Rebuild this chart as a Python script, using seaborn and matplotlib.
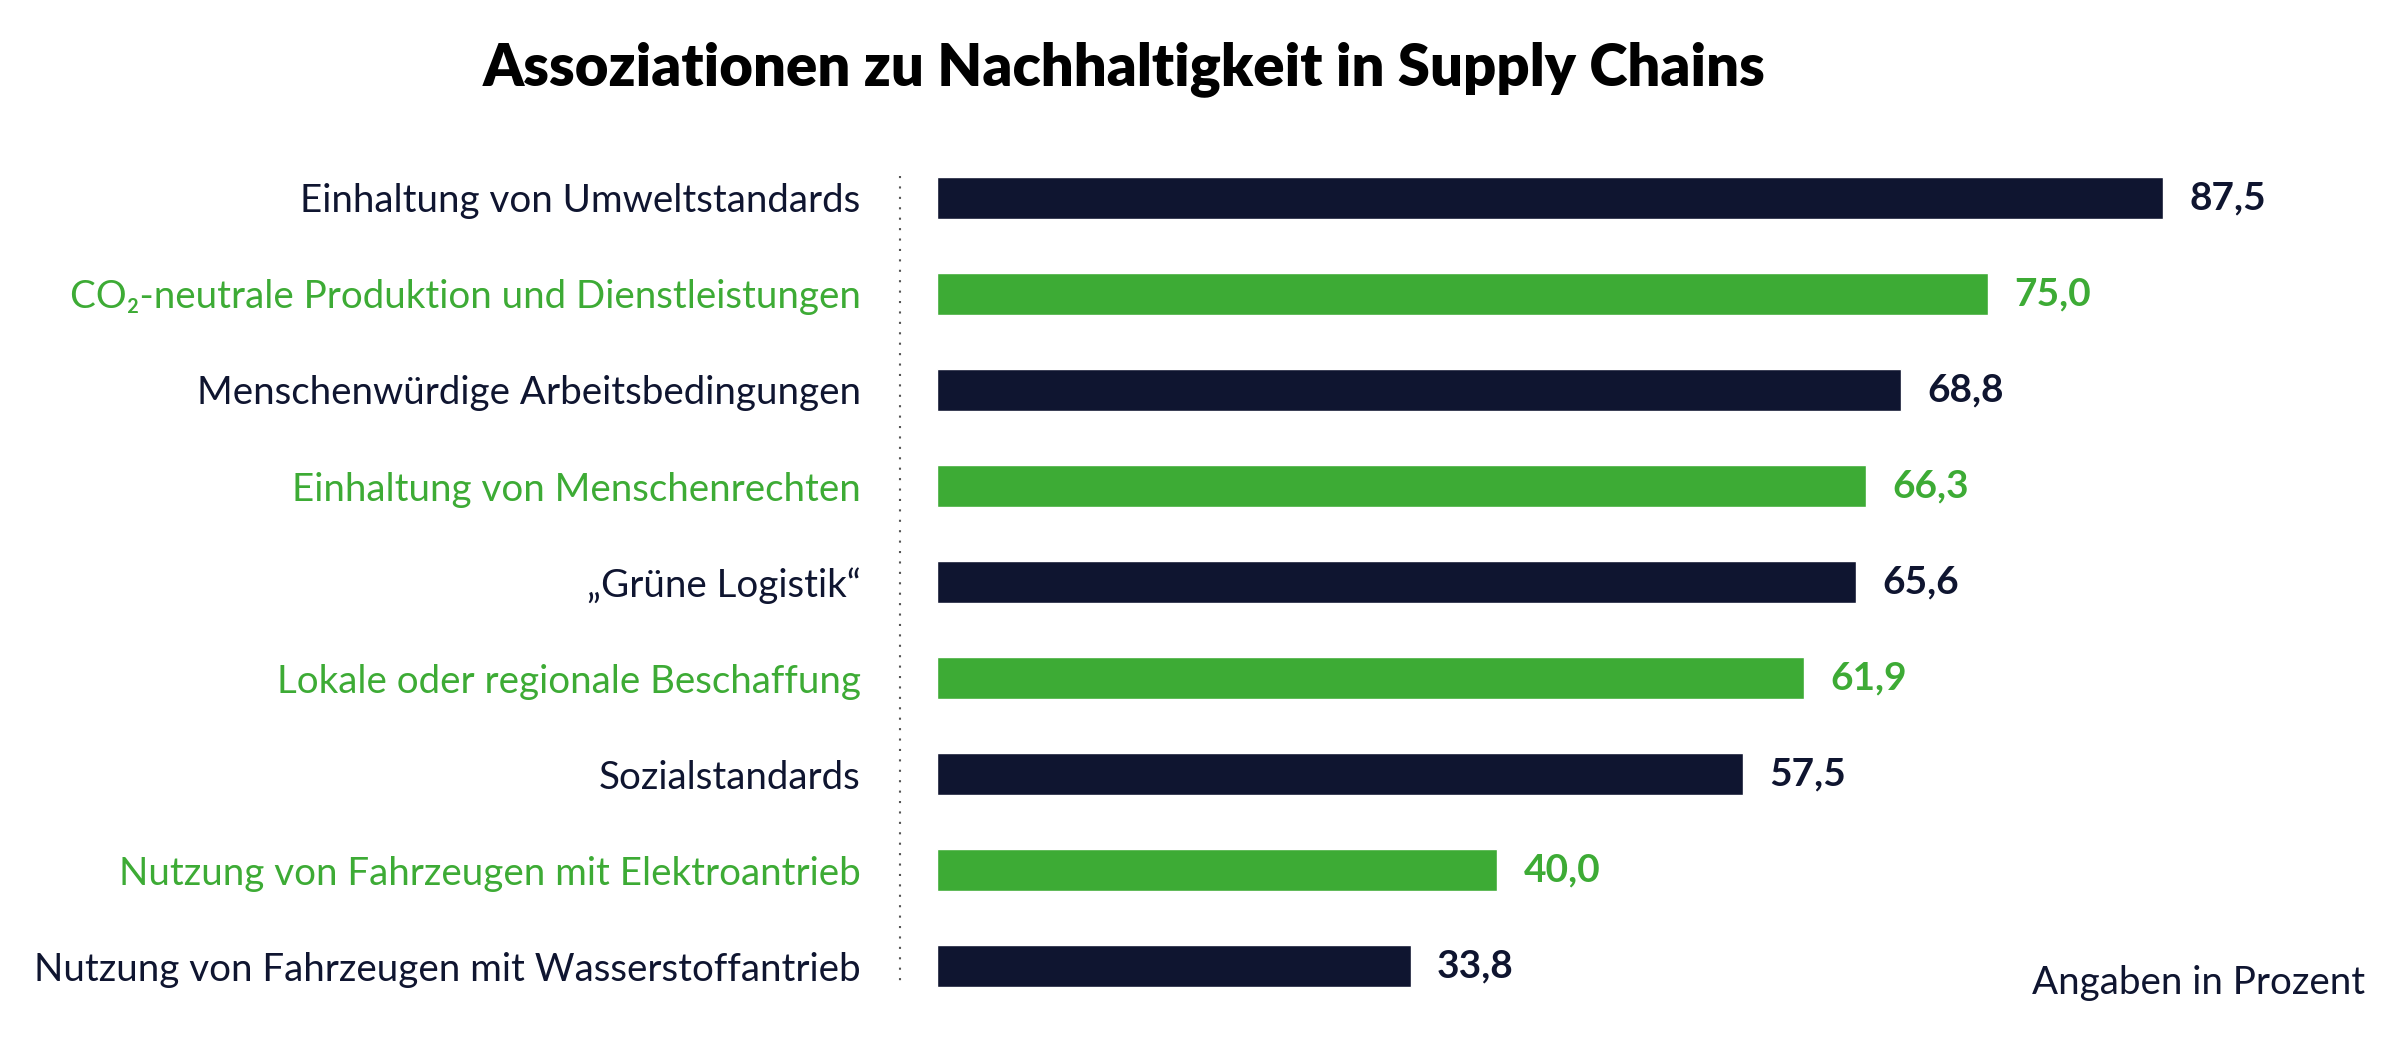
import matplotlib
matplotlib.use("Agg")
import matplotlib.pyplot as plt
from matplotlib.lines import Line2D
import seaborn as sns
import pandas as pd

categories = [
    "Einhaltung von Umweltstandards",
    "CO₂-neutrale Produktion und Dienstleistungen",
    "Menschenwürdige Arbeitsbedingungen",
    "Einhaltung von Menschenrechten",
    "„Grüne Logistik“",
    "Lokale oder regionale Beschaffung",
    "Sozialstandards",
    "Nutzung von Fahrzeugen mit Elektroantrieb",
    "Nutzung von Fahrzeugen mit Wasserstoffantrieb",
]
values = [87.5, 75.0, 68.8, 66.3, 65.6, 61.9, 57.5, 40.0, 33.8]

navy = "#0f1530"
green = "#3dab35"
colors = [navy if i % 2 == 0 else green for i in range(len(categories))]

df = pd.DataFrame({"Kategorie": categories, "Wert": values})

sns.set_style("white")
plt.rcParams["font.family"] = ["Lato", "DejaVu Sans"]

fig = plt.figure(figsize=(24, 10.38), dpi=100)
ax = fig.add_axes([0.3904, 0.0231, 0.5838, 0.8324])

sns.barplot(data=df, x="Wert", y="Kategorie", hue="Kategorie",
            palette=colors, orient="h", width=0.44, legend=False, ax=ax,
            saturation=1)

ax.set_xlim(0, 100)
ax.set_ylim(8.5, -0.5)
ax.set_xlabel("")
ax.set_ylabel("")
ax.set_xticks([])
for s in ax.spines.values():
    s.set_visible(False)

ax.tick_params(axis="y", length=0, pad=55)
for lbl, c in zip(ax.get_yticklabels(), colors):
    lbl.set_color(c)
    lbl.set_fontsize(27.7)
    lbl.set_fontweight("normal")

for cont, c in zip(ax.containers, colors):
    ax.bar_label(cont, labels=[f"{v:.1f}".replace(".", ",") for v in cont.datavalues],
                 padding=19, fontsize=28, fontweight="bold", color=c)

fig.add_artist(Line2D([900 / 2400] * 2, [1 - 176 / 1038, 1 - 987 / 1038],
                      color="#555555", linewidth=1.5, linestyle=(0, (1, 4))))

fig.text(0.4685, 1 - 69 / 1038, "Assoziationen zu Nachhaltigkeit in Supply Chains",
         ha="center", va="center", fontsize=41.8, fontweight="heavy", color="black")
fig.text(2365 / 2400, 1 - 983 / 1038, "Angaben in Prozent",
         ha="right", va="center", fontsize=27.7, fontweight="normal", color=navy)

fig.savefig("out.png", dpi=100, facecolor="white")
